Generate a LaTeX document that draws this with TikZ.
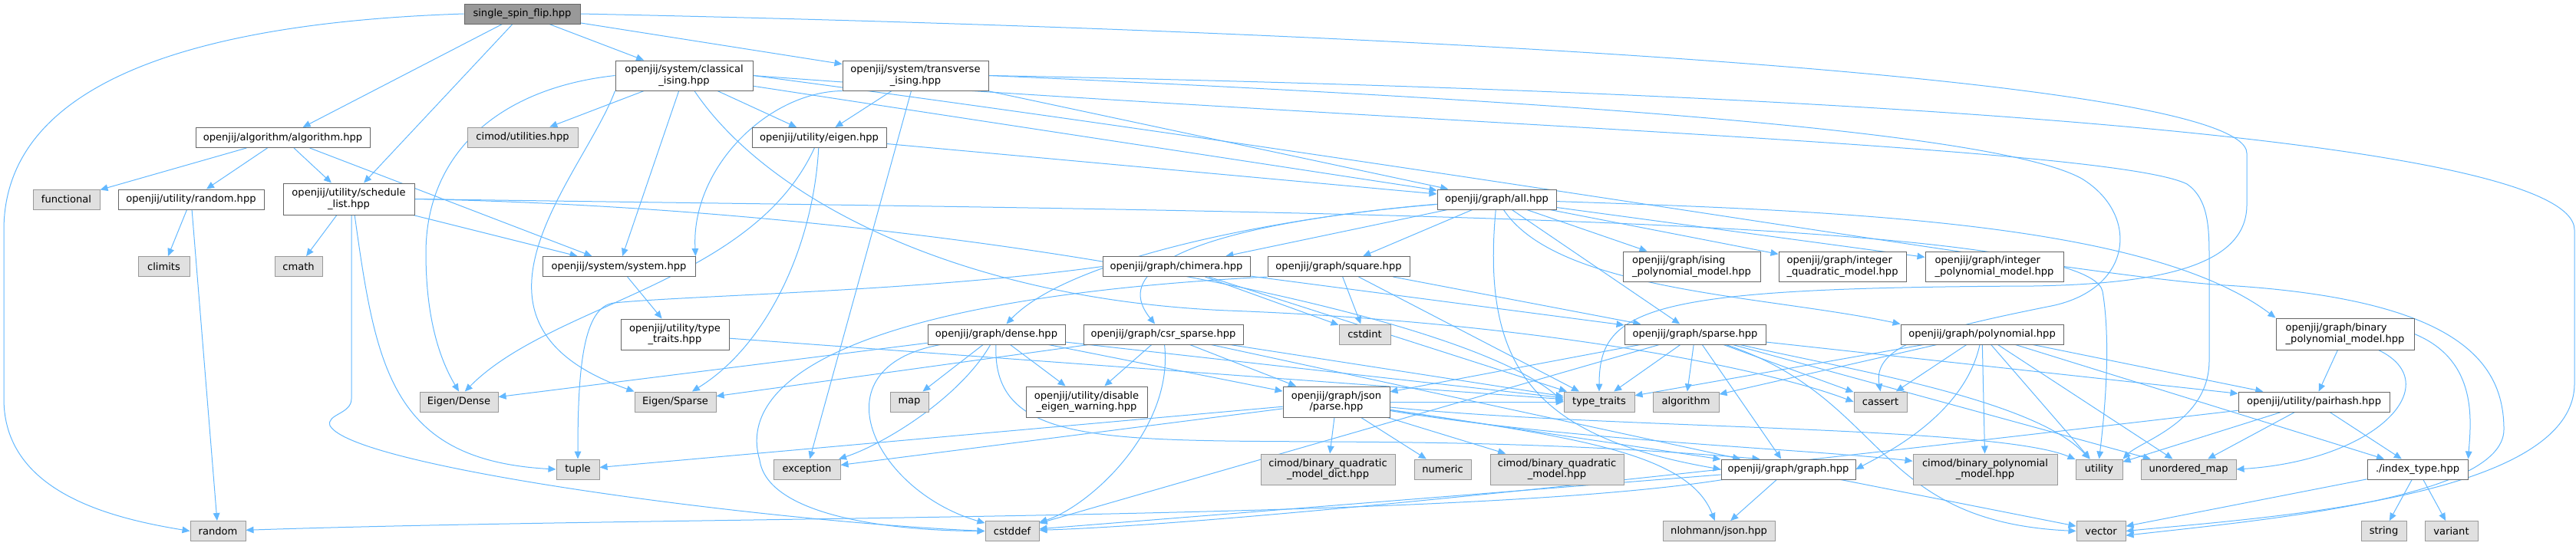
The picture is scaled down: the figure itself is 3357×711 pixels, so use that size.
\documentclass[tikz,border=0pt]{standalone}
\usepackage{fontspec}
\setmainfont{DejaVu Sans}
\usetikzlibrary{arrows.meta}
\definecolor{edgeblue}{HTML}{63B8FF}
\definecolor{boxgray}{HTML}{E0E0E0}
\definecolor{rootgray}{HTML}{999999}
\definecolor{linegray}{HTML}{666666}
\definecolor{lightline}{HTML}{999999}
\pgfdeclarelayer{bg}
\pgfsetlayers{bg,main}

\begin{document}
\begin{tikzpicture}[x=0.75pt, y=-0.75pt,
  every node/.style={font=\fontsize{9.8}{11}\selectfont, inner sep=0pt, align=center},
  sz/.style 2 args={minimum width=#1*0.75pt, minimum height=#2*0.75pt},
  filebox/.style={draw=linegray, fill=white, line width=0.75pt},
  sysbox/.style={draw=lightline, fill=boxgray, line width=0.75pt},
  rootbox/.style={draw=linegray, fill=rootgray, line width=0.75pt},
  inc/.style={draw=edgeblue, line width=0.75pt, -{Triangle[length=7.5pt, width=6.5pt]}}]
			\useasboundingbox (0,0) rectangle (3357,711);
			% files
			\node[rootbox, sz={151}{26}] (root) at (680.5,18) {single\_spin\_flip.hpp};
			\node[filebox, sz={227}{26}] (alg) at (368.5,179.5) {openjij/algorithm/algorithm.hpp};
			\node[filebox, sz={179}{39}] (classical) at (891.5,98.5) {openjij/system/classical\\\_ising.hpp};
			\node[filebox, sz={190}{39}] (transverse) at (1193,98.5) {openjij/system/transverse\\\_ising.hpp};
			\node[sysbox, sz={144}{26}] (cimodutil) at (681,179) {cimod/utilities.hpp};
			\node[filebox, sz={175}{26}] (eigen) at (1067.5,179.5) {openjij/utility/eigen.hpp};
			\node[sysbox, sz={87}{26}] (functional) at (86.5,260) {functional};
			\node[filebox, sz={190}{26}] (randomhpp) at (249,260) {openjij/utility/random.hpp};
			\node[filebox, sz={171}{41}] (schedule) at (454.5,259.5) {openjij/utility/schedule\\\_list.hpp};
			\node[filebox, sz={155}{26}] (allhpp) at (1950.5,260) {openjij/graph/all.hpp};
			\node[sysbox, sz={67}{26}] (climits) at (213.5,347.5) {climits};
			\node[sysbox, sz={62}{26}] (cmath) at (389,347.5) {cmath};
			\node[filebox, sz={199}{26}] (system) at (806.5,347.5) {openjij/system/system.hpp};
			\node[filebox, sz={192}{26}] (chimera) at (1533,347.5) {openjij/graph/chimera.hpp};
			\node[filebox, sz={185}{26}] (square) at (1744.5,347.5) {openjij/graph/square.hpp};
			\node[filebox, sz={179}{39}, align=left] (isingpoly) at (2204.5,347.5) {openjij/graph/ising\\\_polynomial\_model.hpp};
			\node[filebox, sz={166}{39}, align=left] (intquad) at (2401,347.5) {openjij/graph/integer\\\_quadratic\_model.hpp};
			\node[filebox, sz={180}{39}, align=left] (intpoly) at (2599,347.5) {openjij/graph/integer\\\_polynomial\_model.hpp};
			\node[filebox, sz={141}{40}] (typetraitshpp) at (879.5,436) {openjij/utility/type\\\_traits.hpp};
			\node[filebox, sz={179}{26}] (dense) at (1298.5,436) {openjij/graph/dense.hpp};
			\node[filebox, sz={208}{26}] (csr) at (1516,436) {openjij/graph/csr\_sparse.hpp};
			\node[sysbox, sz={67}{26}] (cstdint) at (1778.5,436) {cstdint};
			\node[filebox, sz={184}{26}] (sparse) at (2209,436) {openjij/graph/sparse.hpp};
			\node[filebox, sz={212}{26}] (polynomial) at (2583,436) {openjij/graph/polynomial.hpp};
			\node[filebox, sz={180}{41}, align=left] (binpoly) at (3056,435.5) {openjij/graph/binary\\\_polynomial\_model.hpp};
			\node[sysbox, sz={102}{26}] (eigendense) at (598,524) {Eigen/Dense};
			\node[sysbox, sz={106}{26}] (eigensparse) at (880,524) {Eigen/Sparse};
			\node[sysbox, sz={50}{26}] (map) at (1185,524) {map};
			\node[filebox, sz={158}{40}] (disable) at (1416,524) {openjij/utility/disable\\\_eigen\_warning.hpp};
			\node[filebox, sz={139}{40}] (jsonparse) at (1741.5,524) {openjij/graph/json\\/parse.hpp};
			\node[sysbox, sz={92}{26}] (typetraits) at (2084,524) {type\_traits};
			\node[sysbox, sz={86}{26}] (algorithm) at (2197,524) {algorithm};
			\node[sysbox, sz={69}{26}] (cassert) at (2450.5,524) {cassert};
			\node[filebox, sz={197}{26}] (pairhash) at (3015.5,524) {openjij/utility/pairhash.hpp};
			\node[sysbox, sz={56}{26}] (tuple) at (753,612) {tuple};
			\node[sysbox, sz={87}{26}] (exception) at (1051.5,612) {exception};
			\node[sysbox, sz={175}{40}] (bqmdict) at (1730.5,612) {cimod/binary\_quadratic\\\_model\_dict.hpp};
			\node[sysbox, sz={74}{26}] (numeric) at (1880,612) {numeric};
			\node[sysbox, sz={174}{40}] (bqm) at (2029,612) {cimod/binary\_quadratic\\\_model.hpp};
			\node[filebox, sz={175}{26}] (graph) at (2330.5,612) {openjij/graph/graph.hpp};
			\node[sysbox, sz={188}{40}] (bpm) at (2587,612) {cimod/binary\_polynomial\\\_model.hpp};
			\node[sysbox, sz={61}{26}] (utility) at (2735.5,612) {utility};
			\node[sysbox, sz={124}{26}] (unorderedmap) at (2852,612) {unordered\_map};
			\node[filebox, sz={131}{26}] (indextype) at (3150.5,612) {./index\_type.hpp};
			\node[sysbox, sz={72}{26}] (random) at (284,692.5) {random};
			\node[sysbox, sz={70}{26}] (cstddef) at (1319,692.5) {cstddef};
			\node[sysbox, sz={146}{26}] (nlohmann) at (2240,692.5) {nlohmann/json.hpp};
			\node[sysbox, sz={64}{26}] (vector) at (2738,692.5) {vector};
			\node[sysbox, sz={59}{26}] (string) at (3106.5,692.5) {string};
			\node[sysbox, sz={69}{26}] (variant) at (3194.5,692.5) {variant};

			\begin{pgfonlayer}{bg}
			% includes of the updater
			\draw[inc] (root.west) .. controls (300,28) and (5,90) .. (5,300) -- (5,520) .. controls (5,640) and (140,675) .. (random.west);
			\draw[inc] (root) -- (alg);
			\draw[inc] (root) -- (schedule);
			\draw[inc] (root) -- (classical);
			\draw[inc] (root) -- (transverse);
			\draw[inc] (root.east) .. controls (1800,40) and (2928,100) .. (2928,200) -- (2928,267) .. controls (2928,345) and (2820,370) .. (2650,373) .. controls (2150,375) and (2084,400) .. (typetraits.north);
			\draw[inc] (alg) -- (functional);
			\draw[inc] (alg) -- (randomhpp);
			\draw[inc] (alg) -- (schedule);
			\draw[inc] (alg) -- (system);
			\draw[inc] (randomhpp) -- (climits);
			\draw[inc] (randomhpp) -- (random);
			\draw[inc] (schedule) -- (cmath);
			\draw[inc] (schedule) -- (system);
			\draw[inc] (schedule.290) .. controls (490,480) and (510,600) .. (tuple.west);
			\draw[inc] (schedule.280) -- (458,520) .. controls (458,540) and (425,540) .. (430,555) .. controls (460,610) and (1000,680) .. (cstddef.west);
			\draw[inc] (schedule.east) .. controls (1600,275) and (2720,280) .. (2740,380) .. controls (2750,440) and (2745,520) .. (utility.north);
			\draw[inc] (schedule.east) .. controls (1200,272) and (1900,400) .. (typetraits.west);
			% systems
			\draw[inc] (classical) -- (cimodutil);
			\draw[inc] (classical) -- (system);
			\draw[inc] (classical) -- (eigen);
			\draw[inc] (classical) -- (allhpp);
			\draw[inc] (classical.west) .. controls (650,115) and (555,200) .. (555,330) .. controls (555,430) and (580,480) .. (eigendense.north);
			\draw[inc] (classical.south west) .. controls (760,230) and (570,420) .. (eigensparse.north west);
			\draw[inc] (classical.east) .. controls (1800,160) and (2750,190) .. (2850,240) .. controls (2879,260) and (2879,300) .. (2879,340) -- (2879,470) .. controls (2879,550) and (2790,575) .. (utility.north east);
			\draw[inc] (classical.east) .. controls (1900,220) and (2700,360) .. (2900,372) .. controls (3200,390) and (3263,470) .. (3263,560) .. controls (3263,650) and (2950,678) .. (vector.350);
			\draw[inc] (classical) .. controls (1000,260) and (1250,390) .. (1600,405) .. controls (2000,420) and (2300,480) .. (cassert.west);
			\draw[inc] (transverse.south west) .. controls (1000,120) and (900,220) .. (system.north east);
			\draw[inc] (transverse) -- (eigen);
			\draw[inc] (transverse) -- (exception);
			\draw[inc] (transverse) -- (allhpp);
			\draw[inc] (transverse.east) .. controls (2400,120) and (3355,180) .. (3355,300) -- (3355,500) .. controls (3355,650) and (2950,675) .. (vector.east);
			\draw[inc] (transverse.east) .. controls (2000,130) and (2600,170) .. (2713,233) .. controls (2790,280) and (2780,380) .. (2668,400) .. controls (2520,430) and (2440,450) .. (cassert.north);
			\draw[inc] (eigen) .. controls (980,370) and (720,395) .. (eigendense.60);
			\draw[inc] (eigen) .. controls (1060,320) and (1000,450) .. (eigensparse);
			\draw[inc] (eigen) -- (allhpp);
			\draw[inc] (system) -- (typetraitshpp);
			\draw[inc] (typetraitshpp) -- (typetraits);
			% graphs
			\draw[inc] (allhpp) .. controls (1700,280) and (1400,330) .. (dense);
			\draw[inc] (allhpp) .. controls (1650,285) and (1430,330) .. (csr);
			\draw[inc] (allhpp) -- (chimera);
			\draw[inc] (allhpp) -- (square);
			\draw[inc] (allhpp) .. controls (1930,480) and (2000,570) .. (graph.west);
			\draw[inc] (allhpp) -- (sparse);
			\draw[inc] (allhpp) .. controls (2030,380) and (2300,385) .. (polynomial.north west);
			\draw[inc] (allhpp) -- (isingpoly);
			\draw[inc] (allhpp) -- (intquad);
			\draw[inc] (allhpp) -- (intpoly);
			\draw[inc] (allhpp) .. controls (2400,275) and (2800,290) .. (binpoly.north west);
			\draw[inc] (chimera.west) .. controls (1200,380) and (900,385) .. (800,395) .. controls (760,400) and (753,480) .. (tuple.north);
			\draw[inc] (chimera) -- (cstdint);
			\draw[inc] (chimera) -- (sparse);
			\draw[inc] (chimera) -- (typetraits);
			\draw[inc] (square.south west) .. controls (1100,390) and (960,500) .. (990,600) .. controls (1000,670) and (1150,692) .. (cstddef.west);
			\draw[inc] (square) -- (cstdint);
			\draw[inc] (square) -- (typetraits);
			\draw[inc] (square) -- (sparse);
			\draw[inc] (dense) -- (eigendense);
			\draw[inc] (dense) .. controls (1060,480) and (1140,640) .. (cstddef);
			\draw[inc] (dense) -- (map);
			\draw[inc] (dense) .. controls (1250,520) and (1150,580) .. (exception);
			\draw[inc] (dense) -- (disable);
			\draw[inc] (dense) -- (jsonparse);
			\draw[inc] (dense) .. controls (1290,640) and (1600,540) .. (graph.160);
			\draw[inc] (dense) -- (typetraits);
			\draw[inc] (csr) -- (eigensparse);
			\draw[inc] (csr) -- (disable);
			\draw[inc] (csr) .. controls (1530,560) and (1420,660) .. (cstddef);
			\draw[inc] (csr) -- (jsonparse);
			\draw[inc] (csr) -- (typetraits);
			\draw[inc] (csr) -- (graph);
			\draw[inc] (sparse) -- (jsonparse);
			\draw[inc] (sparse) -- (cstddef);
			\draw[inc] (sparse) -- (typetraits);
			\draw[inc] (sparse) -- (algorithm);
			\draw[inc] (sparse) -- (graph);
			\draw[inc] (sparse) -- (cassert);
			\draw[inc] (sparse) -- (pairhash);
			\draw[inc] (sparse) -- (unorderedmap);
			\draw[inc] (sparse) .. controls (2400,480) and (2650,520) .. (utility);
			\draw[inc] (sparse) .. controls (2460,520) and (2440,680) .. (vector.west);
			\draw[inc] (polynomial) -- (cassert);
			\draw[inc] (polynomial) -- (algorithm);
			\draw[inc] (polynomial) -- (typetraits);
			\draw[inc] (polynomial) .. controls (2560,540) and (2460,590) .. (graph.east);
			\draw[inc] (polynomial) -- (bpm);
			\draw[inc] (polynomial) -- (utility);
			\draw[inc] (polynomial) -- (unorderedmap);
			\draw[inc] (polynomial) -- (pairhash);
			\draw[inc] (polynomial) -- (indextype);
			\draw[inc] (binpoly) -- (pairhash);
			\draw[inc] (binpoly) .. controls (3190,500) and (3100,600) .. (unorderedmap.east);
			\draw[inc] (binpoly.east) .. controls (3230,470) and (3220,550) .. (indextype.north east);
			\draw[inc] (pairhash) -- (utility);
			\draw[inc] (pairhash) -- (unorderedmap);
			\draw[inc] (pairhash) -- (indextype);
			\draw[inc] (pairhash) .. controls (2700,560) and (1700,680) .. (cstddef);
			\draw[inc] (jsonparse) -- (tuple);
			\draw[inc] (jsonparse) -- (exception);
			\draw[inc] (jsonparse) -- (bqmdict);
			\draw[inc] (jsonparse) -- (numeric);
			\draw[inc] (jsonparse) -- (bqm);
			\draw[inc] (jsonparse) -- (graph);
			\draw[inc] (jsonparse) -- (typetraits);
			\draw[inc] (jsonparse) .. controls (2050,570) and (2200,590) .. (nlohmann);
			\draw[inc] (jsonparse) .. controls (2050,575) and (2350,585) .. (bpm);
			\draw[inc] (jsonparse) .. controls (2100,560) and (2600,555) .. (utility);
			\draw[inc] (graph) .. controls (1900,680) and (900,672) .. (random);
			\draw[inc] (graph) -- (cstddef);
			\draw[inc] (graph) -- (vector);
			\draw[inc] (graph) -- (nlohmann);
			\draw[inc] (indextype) -- (vector);
			\draw[inc] (indextype) -- (string);
			\draw[inc] (indextype) -- (variant);
			\end{pgfonlayer}
		\end{tikzpicture}
\end{document}
